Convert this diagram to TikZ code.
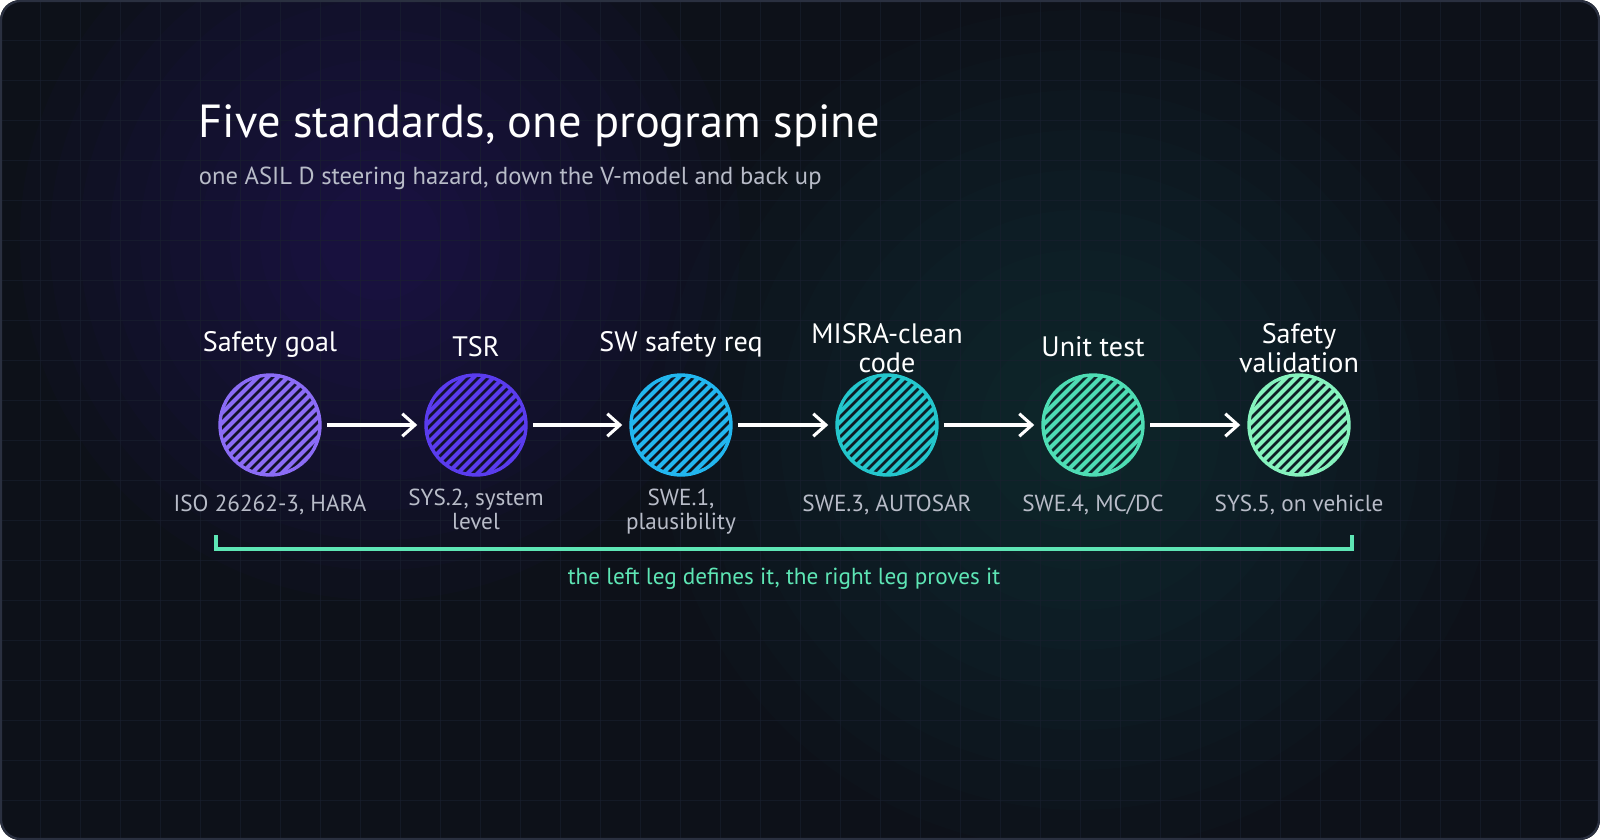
\documentclass[tikz,border=0pt]{standalone}
\usepackage{fontspec}
\setmainfont{PT Sans}
\usetikzlibrary{arrows.meta}

\definecolor{bgdark}{HTML}{0D1119}
\definecolor{gridline}{HTML}{1A2030}
\definecolor{frameline}{HTML}{2A3040}
\definecolor{subtext}{HTML}{B8BCC8}
\definecolor{teal}{HTML}{5EE6B5}
\definecolor{glowA}{HTML}{3A2A9A}
\definecolor{glowB}{HTML}{1E7A78}
\definecolor{cGoal}{HTML}{8B6CF6}
\definecolor{cTsr}{HTML}{5A3CEE}
\definecolor{cReq}{HTML}{22B6EE}
\definecolor{cCode}{HTML}{24C6CC}
\definecolor{cUnit}{HTML}{4EDDB4}
\definecolor{cValid}{HTML}{86F2BE}

\tikzset{
  ball/.style={circle, minimum size=2.5cm, line width=2.4pt, draw=#1},
  head/.style={text=white, font=\fontsize{20}{21}\selectfont, align=center},
  foot/.style={text=subtext, font=\fontsize{16.5}{17}\selectfont, align=center},
  flow/.style={-{Straight Barb[length=9pt,width=16pt,line width=2.2pt]}, line width=2.4pt, white},
}

\newcommand{\hatchball}[3]{% name, x, colour
  \node[ball=#3] (#1) at (#2,425) {};
  \begin{scope}
    \clip (#2,425) circle (50);
    \foreach \d in {-120,-110,...,120}
      \draw[#3, line width=3pt] (#2+\d-60,485) -- (#2+\d+60,365);
  \end{scope}
}

\begin{document}
\begin{tikzpicture}[x=0.025cm, y=-0.025cm]
\useasboundingbox (0,0) rectangle (1600,840);
\fill[bgdark, rounded corners=0.5cm] (0,0) rectangle (1600,840);
\begin{scope}
  \clip[rounded corners=0.5cm] (0,0) rectangle (1600,840);
  \foreach \r in {60,90,...,360}
    \fill[glowA, opacity=0.035] (380,240) circle (\r);
  \foreach \r in {60,100,...,420}
    \fill[glowB, opacity=0.022] (1080,430) circle (\r);
  \foreach \g in {40,80,...,1560}
    \draw[gridline, opacity=0.6] (\g,0) -- (\g,840);
  \foreach \g in {40,80,...,800}
    \draw[gridline, opacity=0.6] (0,\g) -- (1600,\g);
\end{scope}
\draw[frameline, line width=1.5pt, rounded corners=0.5cm] (1,1) rectangle (1599,839);

% title
\node[anchor=west, text=white, font=\fontsize{33}{35}\selectfont] (title) at (194,126) {Five standards, one program spine};
\node[anchor=west, text=subtext, font=\fontsize{17.5}{19}\selectfont] (subtitle) at (194,178) {one ASIL D steering hazard, down the V-model and back up};

% the spine
\hatchball{goal}{270}{cGoal}
\hatchball{tsr}{476}{cTsr}
\hatchball{swreq}{681}{cReq}
\hatchball{misra}{887}{cCode}
\hatchball{unit}{1093}{cUnit}
\hatchball{valid}{1299}{cValid}

\node[head, anchor=south] (goalH) at (270,362) {Safety goal};
\node[head, anchor=south] (tsrH) at (476,362) {TSR};
\node[head, anchor=south] (swreqH) at (681,362) {SW safety req};
\node[head, anchor=south] (misraH) at (887,378) {MISRA-clean\\code};
\node[head, anchor=south] (unitH) at (1093,362) {Unit test};
\node[head, anchor=south] (validH) at (1299,378) {Safety\\validation};

\node[foot, anchor=north] (goalF) at (270,490) {ISO 26262-3, HARA};
\node[foot, anchor=north] (tsrF) at (476,484) {SYS.2, system\\level};
\node[foot, anchor=north] (swreqF) at (681,484) {SWE.1,\\plausibility};
\node[foot, anchor=north] (misraF) at (887,490) {SWE.3, AUTOSAR};
\node[foot, anchor=north] (unitF) at (1093,490) {SWE.4, MC/DC};
\node[foot, anchor=north] (validF) at (1299,490) {SYS.5, on vehicle};

\foreach \from/\to in {goal/tsr, tsr/swreq, swreq/misra, misra/unit, unit/valid}
  \draw[flow] ([xshift=4pt]\from.east) -- ([xshift=-5pt]\to.west);

% bracket
\coordinate (bl) at (216,535);
\coordinate (br) at (1352,535);
\draw[teal, line width=2.2pt] (bl) -- ++(0,14) -| (br);
\node[text=teal, font=\fontsize{16.5}{18}\selectfont] (legs) at (784,579) {the left leg defines it, the right leg proves it};
\end{tikzpicture}
\end{document}
